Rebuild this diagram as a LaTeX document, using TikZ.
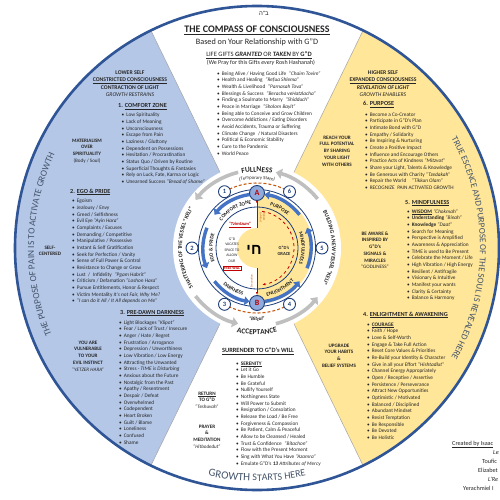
\documentclass[tikz,border=0pt]{standalone}
\usepackage{fontspec}
\setmainfont{Carlito}
\newfontfamily\hebfont[Script=Hebrew]{Liberation Sans}
\TeXXeTstate=1
\usetikzlibrary{arrows.meta,decorations.text}

\definecolor{navy}{HTML}{1F3F7A}
\definecolor{edgeblue}{HTML}{2F5597}
\definecolor{lblue}{HTML}{B4C7E7}
\definecolor{lyel}{HTML}{FFE699}
\definecolor{ringblue}{HTML}{4472C4}
\definecolor{arrgray}{HTML}{BFBFBF}
\definecolor{dashor}{HTML}{C55A11}
\definecolor{ringtext}{HTML}{44546A}
\definecolor{abfill}{HTML}{8FAADC}
\definecolor{dred}{HTML}{C00000}
\definecolor{txt}{HTML}{262626}

\newcommand\bl{\makebox[4.6pt][l]{\textbullet}}
\newcommand\lstfont{\fontsize{5.3}{6.67}\selectfont}
\newcommand\secfont{\bfseries\fontsize{6.2}{7}\selectfont}
\newcommand\hdrfont{\bfseries\fontsize{5.7}{7.6}\selectfont}
\newcommand\sidefont{\bfseries\fontsize{5.1}{6.7}\selectfont}
\newcommand\ringfont{\bfseries\fontsize{5.2}{6}\selectfont}

\begin{document}
\begin{tikzpicture}[x=1pt, y=1pt,
  lst/.style={anchor=north west, yshift=4.67pt, align=left, inner sep=0pt, font=\lstfont, text=txt},
  sec/.style={anchor=base west, inner sep=0pt, font=\secfont, text=txt},
  hdr/.style={anchor=north, yshift=5.32pt, align=center, inner sep=0pt, font=\hdrfont, text=txt},
  side/.style={anchor=north, yshift=4.69pt, align=center, inner sep=0pt, font=\sidefont, text=txt},
  numc/.style={circle, draw=navy, line width=0.9pt, fill=white, minimum size=12pt, inner sep=0pt, font=\bfseries\fontsize{6.5}{6.5}\selectfont, text=navy},
  abc/.style={circle, draw=navy, line width=0.9pt, fill=abfill, minimum size=15pt, inner sep=0pt, font=\bfseries\fontsize{8}{8}\selectfont, text=dred},
  grayarr/.style={draw=arrgray, line width=3.6pt, -{Triangle[length=6pt,width=10pt]}},
  bluearr/.style={draw=ringblue, line width=3.4pt, -{Triangle[length=5pt,width=8.5pt]}},
  orng/.style={draw=dashor, line width=1.1pt, dash pattern=on 3pt off 2pt},
  arctext/.style={decorate, decoration={text along path, text align=center, text={#1}}}]
\useasboundingbox (0,0) rectangle (500,-500);
\clip (0,0) rectangle (500,-500);
\fill[white] (0,0) rectangle (500,-500);
\coordinate (c) at (257,-248);

% sectors of the big circle
\fill[lblue] (c) -- ([shift={(116:242)}]c) arc[start angle=116, end angle=244, radius=242] -- cycle;
\fill[lyel] (c) -- ([shift={(-64:242)}]c) arc[start angle=-64, end angle=64, radius=242] -- cycle;
\draw[gray!70, line width=0.5pt] ([shift={(116:242)}]c) -- (c) -- ([shift={(244:242)}]c);
\draw[gray!70, line width=0.5pt] ([shift={(64:242)}]c) -- (c) -- ([shift={(-64:242)}]c);
\fill[white] (c) circle[radius=84];
\draw[edgeblue, line width=2.6pt] (c) circle[radius=242];

% texts round the rim
\path[arctext={|\color{ringtext}\fontsize{9.4}{9.4}\selectfont|THE PURPOSE OF PAIN IS TO ACTIVATE GROWTH}] ([shift={(214:223)}]c) arc[start angle=214, end angle=144, radius=223];
\path[arctext={|\color{ringtext}\fontsize{9}{9}\selectfont|TRUE ESCENCE AND PURPOSE OF THE SOUL IS REVEALED HERE}] ([shift={(36:223)}]c) arc[start angle=36, end angle=-36, radius=223];
\path[arctext={|\color{ringtext}\fontsize{11}{11}\selectfont|GROWTH |\color{ringtext}\fontsize{10}{10}\selectfont|STARTS HERE}] ([shift={(246:233)}]c) arc[start angle=246, end angle=294, radius=233];

% outer ring of the compass
\foreach \s/\e in {104/142, 218/256, 284/321, 39/76}
  \draw[grayarr] ([shift={(\s:78)}]c) arc[start angle=\s, end angle=\e, radius=78];
\path[arctext={|\bfseries\fontsize{5.7}{6}\selectfont\color{txt}|SHATTERING OF THE VESSEL “KELI”}] ([shift={(222:75)}]c) arc[start angle=222, end angle=138, radius=75];
\path[arctext={|\bfseries\fontsize{5.7}{6}\selectfont\color{txt}|BUILDING A NEW VESSEL “KELI”}] ([shift={(40:75)}]c) arc[start angle=40, end angle=-40, radius=75];
\path[arctext={|\bfseries\fontsize{7.5}{7.5}\selectfont\color{txt}|FULLNESS}] ([shift={(115:76)}]c) arc[start angle=115, end angle=65, radius=76];
\path[arctext={|\fontsize{4.8}{5}\selectfont\color{txt}|(Temporary State)}] ([shift={(120:69)}]c) arc[start angle=120, end angle=60, radius=69];
\path[arctext={|\bfseries\fontsize{7.5}{7.5}\selectfont\color{txt}|ACCEPTANCE}] ([shift={(240:86.5)}]c) arc[start angle=240, end angle=300, radius=86.5];
\path[arctext={|\bfseries\itshape\fontsize{5.2}{5.2}\selectfont\color{txt}|“Bittul”}] ([shift={(255:73)}]c) arc[start angle=255, end angle=285, radius=73];
\draw[orng] ([shift={(64:65)}]c) arc[start angle=64, end angle=116, radius=65];
\draw[orng] ([shift={(244:65)}]c) arc[start angle=244, end angle=296, radius=65];

% inner ring
\fill[lyel] ([shift={(90:56)}]c) arc[start angle=90, end angle=-90, radius=56] -- cycle;
\draw[navy, line width=0.8pt] (c) circle[radius=58.5];
\draw[navy, line width=0.8pt] (c) circle[radius=41];
\foreach \s in {98,158,218,278,338,38}
  \draw[bluearr] ([shift={(\s:54)}]c) arc[start angle=\s, end angle=\s+44, radius=54];
\path[arctext={|\ringfont\color{txt}|COMFORT ZONE}] ([shift={(155:44.5)}]c) arc[start angle=155, end angle=85, radius=44.5];
\path[arctext={|\ringfont\color{txt}|EGO {\&} PRIDE}] ([shift={(215:44.5)}]c) arc[start angle=215, end angle=145, radius=44.5];
\path[arctext={|\ringfont\color{txt}|PURPOSE}] ([shift={(95:44.5)}]c) arc[start angle=95, end angle=25, radius=44.5];
\path[arctext={|\ringfont\color{txt}|MINDFULNESS}] ([shift={(35:44.5)}]c) arc[start angle=35, end angle=-35, radius=44.5];
\path[arctext={|\ringfont\color{txt}|DARKNESS}] ([shift={(205:49.5)}]c) arc[start angle=205, end angle=275, radius=49.5];
\path[arctext={|\ringfont\color{txt}|ENLIGHTMENT}] ([shift={(265:49.5)}]c) arc[start angle=265, end angle=335, radius=49.5];

% centre
\fill[lyel] (c) circle[radius=20];
\draw[dred, line width=0.8pt, dashed, -{Latex[length=3pt]}] ([shift={(82:37)}]c) arc[start angle=82, end angle=-82, radius=37];
\node (chai) at (254,-250) {\hebfont\bfseries\fontsize{15}{15}\selectfont\beginR חי\endR};
\node[font=\bfseries\fontsize{4.6}{5.6}\selectfont, align=center, text=txt] (grace) at (284,-251) {G”D’s\\GRACE};
\node[font=\bfseries\itshape\fontsize{4.6}{5}\selectfont, text=dred] (tzim) at (240,-225) {\underline{“Tzimtzum”}};
\node[font=\fontsize{3.8}{5.6}\selectfont, align=center, text=txt] (vac) at (232,-250) {G”D\\VACATES\\SPACE TO\\ALLOW\\OUR};
\node[draw=dred, line width=0.5pt, inner sep=0.8pt, font=\bfseries\fontsize{3.8}{4}\selectfont, text=dred] (free) at (232,-268) {FREE WILL};
\node[rotate=-90, font=\fontsize{3}{3.6}\selectfont, align=center, text=dashor] (bypass) at (262.5,-217) {Bypass\\to Mind};
\node[rotate=90, font=\fontsize{3}{3.6}\selectfont, text=dashor] (eman) at (251.5,-281) {Emanation};
\node[abc] (a) at ([shift={(90:55)}]c) {A};
\node[abc] (b) at ([shift={(270:55)}]c) {B};
\coordinate (ctop) at ([shift={(90:20)}]c);
\coordinate (cbot) at ([shift={(270:20)}]c);
\draw[dred, line width=0.9pt, {Latex[reversed,length=3pt]}-] (a) -- (ctop);
\draw[dred, line width=0.9pt, -{Latex[length=3pt]}] (cbot) -- (b);
\foreach \n/\ang in {1/120,2/180,3/240,4/300,5/0,6/60}
  \node[numc] (n\n) at ([shift={(\ang:65)}]c) {\n};

% top
\node[font=\fontsize{6}{6}\selectfont, text=txt] (bh) at (264,-13) {\hebfont\beginR ב"ה\endR};
\node[font=\bfseries\fontsize{10}{10}\selectfont, text=txt] (title) at (257,-30) {\underline{THE COMPASS OF CONSCIOUSNESS}};
\node[font=\fontsize{8.2}{8.2}\selectfont, text=txt] (subt) at (257,-42) {Based on Your Relationship with G”D};
\node[font=\fontsize{6.6}{6.6}\selectfont, text=txt] (gifts) at (259,-55) {\underline{LIFE GIFTS \textbf{\textit{GRANTED}} OR \textbf{\textit{TAKEN}} BY \textbf{G”D}}};
\node[font=\fontsize{6}{6}\selectfont, text=txt] (pray) at (261,-63) {(We Pray for this Gifts \textit{every} Rosh Hashanah)};
\node[lst] (giftlist) at (217,-75) {\strut\bl Being Alive / Having Good Life\enspace\textit{“Chaim Tovim”}\\
\bl Health and Healing\enspace\textit{“Refua Shlema”}\\
\bl Wealth \& Livelihood\enspace\textit{“Parnasah Tova”}\\
\bl Blessings \& Success\enspace\textit{“Beracha veHatzlacha”}\\
\bl Finding a Soulmate to Marry\enspace\textit{“Shidduch”}\\
\bl Peace in Marriage\enspace\textit{“Sholom Bayit”}\\
\bl Being able to Conceive and Grow Children\\
\bl Overcome Addictions / Eating Disorders\\
\bl Avoid Accidents, Trauma or Suffering\\
\bl Climate Change\enspace/ Natural Disasters\\
\bl Political \& Economic Stability\\
\bl Cure to the Pandemic\\
\bl World Peace};

% lower self
\node[hdr] (lowhdr) at (130,-74) {\strut LOWER SELF\\ \underline{CONSTRICTED CONSCIOUSNESS}\\ CONTRACTION OF LIGHT\\ \mdseries\itshape GROWTH RESTRAINS};
\node[sec] (sec1) at (118,-107.5) {1. \underline{COMFORT ZONE}};
\node[lst] (lst1) at (121.5,-116.5) {\strut\bl Low Spirituality\\
\bl Lack of Meaning\\
\bl Unconsciousness\\
\bl Escape from Pain\\
\bl Laziness / Gluttony\\
\bl Dependent on Possessions\\
\bl Hesitation / Procrastination\\
\bl Status Quo / Driven by Routine\\
\bl Superficial Thoughts \& Fantasies\\
\bl Rely on Luck, Fate, Karma or Logic\\
\bl Unearned Success \textit{“Bread of Shame”}};
\node[side] (mater) at (87,-141.8) {\strut MATERIALISM\\OVER\\SPIRITUALITY\\ \mdseries(Body / Soul)};
\node[sec] (sec2) at (70,-193) {2. \underline{EGO \& PRIDE}};
\node[lst] (lst2) at (72,-202.5) {\strut\bl Egoism\\
\bl Jealousy / Envy\\
\bl Greed / Selfishness\\
\bl Evil Eye \textit{“Ayin Hara”}\\
\bl Complaints / Excuses\\
\bl Demanding / Competitive\\
\bl Manipulative / Possessive\\
\bl Instant \& Self Gratification\\
\bl Seek for Perfection / Vanity\\
\bl Sense of Full Power \& Control\\
\bl Resistance to Change or Grow\\
\bl Lust\enspace/\enspace Infidelity\enspace\textit{“Pgam Habrit”}\\
\bl Criticism / Defamation \textit{“Loshon Hara”}\\
\bl Pursue Entitlements, Honor \& Respect\\
\bl Victim Mentality \textit{It’s not Fair, Why Me?}\\
\bl \textit{“I can do it All / It All depends on Me”}};
\node[side] (selfc) at (50,-249) {\strut SELF-\\CENTERED};
\node[sec] (sec3) at (120,-314) {3. \underline{PRE-DAWN DARKNESS}};
\node[lst] (lst3) at (119,-324) {\strut\bl Light Blockages \textit{“Klipot”}\\
\bl Fear / Lack of Trust / Insecure\\
\bl Anger / Hate / Regret\\
\bl Frustration / Arrogance\\
\bl Depression / Unworthiness\\
\bl Low Vibration / Low Energy\\
\bl Attracting the Unwanted\\
\bl Stress - \textit{TIME is Disturbing}\\
\bl Anxious about the Future\\
\bl Nostalgic from the Past\\
\bl Apathy / Resentment\\
\bl Despair / Defeat\\
\bl Overwhelmed\\
\bl Codependent\\
\bl Heart Broken\\
\bl Guilt / Blame\\
\bl Loneliness\\
\bl Confused\\
\bl Shame};
\node[side] (vuln) at (88,-344) {\strut YOU ARE\\VULNERABLE\\TO YOUR\\EVIL INSTINCT\\ \mdseries\itshape “YETZER HARA”};

% surrender
\node[font=\bfseries\fontsize{6.4}{7}\selectfont, text=txt] (surr) at (258,-351) {\underline{SURRENDER TO G”D’s WILL}};
\node[lst] (lstS) at (236,-365) {\strut\bl \textbf{\underline{SERENITY}}\\
\bl Let it Go\\
\bl Be Humble\\
\bl Be Grateful\\
\bl Nullify Yourself\\
\bl Nothingness State\\
\bl Will Power to Submit\\
\bl Resignation / Consolation\\
\bl Release the Load / Be Free\\
\bl Forgiveness \& Compassion\\
\bl Be Patient, Calm \& Peaceful\\
\bl Allow to be Cleansed / Healed\\
\bl Trust \& Confidence\enspace\textit{“Bitachon”}\\
\bl Flow with the Present Moment\\
\bl Sing with What You Have \textit{“Azamra”}\\
\bl Emulate G”D’s \textbf{\textit{13}} \textit{Attributes of Mercy}};
\node[side] (ret) at (207,-395) {\strut\underline{RETURN}\\TO G”D\\ \mdseries\itshape “Teshuvah”};
\node[side] (pray2) at (207,-428) {\strut PRAYER\\\&\\MEDITATION\\ \mdseries\itshape “Hitbodedut”};

% higher self
\node[hdr] (highhdr) at (383,-74) {\strut HIGHER SELF\\ \underline{EXPANDED CONSCIOUSNESS}\\ \itshape REVELATION OF LIGHT\\ \mdseries\itshape GROWTH ENABLERS};
\node[sec] (sec6) at (363,-106) {6. \underline{PURPOSE}};
\node[lst] (lst6) at (365,-116) {\strut\bl Become a Co-Creator\\
\bl Participate in G”D’s Plan\\
\bl Intimate Bond with G”D\\
\bl Empathy / Solidarity\\
\bl Be Inspiring \& Nurturing\\
\bl Create a Positive Impact\\
\bl Influence and Encourage Others\\
\bl Practice Acts of Kindness \textit{“Mitzvot”}\\
\bl Share your Light, Talents \& Knowledge\\
\bl Be Generous with Charity \textit{“Tzedakah”}\\
\bl Repair the World\quad\textit{“Tikkun Olam”}\\
\bl RECOGNIZE\enspace PAIN ACTIVATED GROWTH};
\node[side] (reach) at (337,-139) {\strut REACH YOUR\\FULL POTENTIAL\\BY SHARING\\YOUR LIGHT\\WITH OTHERS};
\node[sec] (sec5) at (405,-204) {5. \underline{MINDFULNESS}};
\node[lst] (lst5) at (407,-213) {\strut\bl \textbf{\underline{WISDOM}} \textit{“Chokmah”}\\
\bl \textbf{Understanding} \textit{“Binah”}\\
\bl \textbf{Knowledge} \textit{“Daat”}\\
\bl Search for Meaning\\
\bl Perspective is Amplified\\
\bl Awareness \& Appreciation\\
\bl TIME is used to Be Present\\
\bl Celebrate the Moment / Life\\
\bl High Vibration / High Energy\\
\bl Resilient / Antifragile\\
\bl Visionary \& Intuitive\\
\bl Manifest your wants\\
\bl Clarity \& Certainty\\
\bl Balance \& Harmony};
\node[side] (aware) at (375,-235) {\strut BE AWARE \&\\INSPIRED BY\\G”D’s\\SIGNALS \&\\MIRACLES\\ \mdseries “GODLINESS”};
\node[sec] (sec4) at (363,-316) {4. \underline{ENLIGHTMENT \& AWAKENING}};
\node[lst] (lst4) at (367,-326) {\strut\bl \textbf{\underline{COURAGE}}\\
\bl Faith / Hope\\
\bl Love \& Self-Worth\\
\bl Engage \& Take Full Action\\
\bl Reset Core Values \& Priorities\\
\bl Re-Build your Identity \& Character\\
\bl Give in all your Effort \textit{“Hishtadlut”}\\
\bl Channel Energy Appropriately\\
\bl Open / Receptive / Assertive\\
\bl Persistence / Perseverance\\
\bl Attract New Opportunities\\
\bl Optimistic / Motivated\\
\bl Balanced / Disciplined\\
\bl Abundant Mindset\\
\bl Resist Temptation\\
\bl Be Responsible\\
\bl Be Devoted\\
\bl Be Holistic};
\node[side] (upg) at (339,-347) {\strut UPGRADE\\YOUR HABITS\\\&\\BELIEF SYSTEMS};

% credits
\node[anchor=base west, inner sep=0pt, font=\fontsize{6.2}{6.2}\selectfont, text=txt] (cred1) at (452,-445) {\underline{Created by Isaac}};
\node[anchor=base west, inner sep=0pt, font=\itshape\fontsize{6.2}{6.2}\selectfont, text=txt] (cred2) at (493,-454) {Le};
\node[anchor=base west, inner sep=0pt, font=\fontsize{6.2}{6.2}\selectfont, text=txt] (cred3) at (482,-463) {Toufic};
\node[anchor=base west, inner sep=0pt, font=\fontsize{6.2}{6.2}\selectfont, text=txt] (cred4) at (478,-472) {Elizabet};
\node[anchor=base west, inner sep=0pt, font=\itshape\fontsize{6.2}{6.2}\selectfont, text=txt] (cred5) at (488,-481) {L’Re};
\node[anchor=base west, inner sep=0pt, font=\fontsize{6.2}{6.2}\selectfont, text=txt] (cred6) at (463,-490) {Yerachmiel I};
\end{tikzpicture}
\end{document}
